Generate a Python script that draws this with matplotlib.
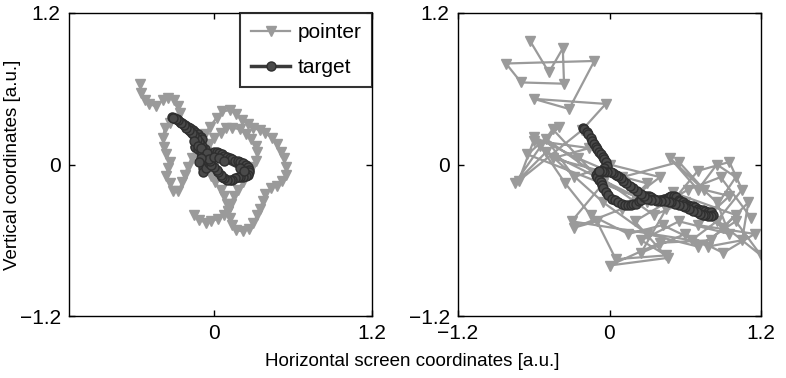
import matplotlib
matplotlib.use('Agg')
import matplotlib.pyplot as plt

plt.rcParams['font.family'] = ['Liberation Sans', 'DejaVu Sans']

# left panel: pointer trajectory
ptr_l_x = [-0.56, -0.55, -0.52, -0.49, -0.44, -0.39, -0.35, -0.30, -0.27, -0.26,
           -0.29, -0.33, -0.37, -0.39, -0.38, -0.36, -0.33, -0.35, -0.36, -0.33,
           -0.31, -0.27, -0.24, -0.22, -0.20, -0.17, -0.14, -0.11, -0.07, -0.03,
           0.02, 0.06, 0.12, 0.17, 0.21, 0.26, 0.30, 0.35, 0.39, 0.44,
           0.48, 0.51, 0.53, 0.55, 0.55, 0.52, 0.48, 0.43, 0.39, 0.37,
           0.35, 0.33, 0.30, 0.27, 0.22, 0.17, 0.14, 0.12, 0.11, 0.13,
           0.15, 0.18, 0.22, 0.26, 0.29, 0.32, 0.33, 0.32, 0.28, 0.24,
           0.20, 0.14, 0.09, 0.05, 0.00, -0.04, -0.06, -0.07, -0.05, -0.02,
           0.01, 0.05, 0.08, 0.10, 0.11, 0.08, 0.03, -0.02, -0.06, -0.11, -0.15]
ptr_l_y = [0.64, 0.57, 0.51, 0.48, 0.46, 0.51, 0.53, 0.51, 0.46, 0.41,
           0.37, 0.33, 0.29, 0.21, 0.14, 0.08, 0.02, -0.03, -0.09, -0.15,
           -0.21, -0.21, -0.14, -0.08, -0.02, 0.05, 0.11, 0.17, 0.24, 0.30,
           0.37, 0.42, 0.43, 0.40, 0.35, 0.32, 0.29, 0.27, 0.25, 0.21,
           0.16, 0.10, 0.05, -0.02, -0.08, -0.13, -0.17, -0.19, -0.23, -0.29,
           -0.35, -0.40, -0.46, -0.51, -0.53, -0.52, -0.48, -0.42, -0.37, -0.31,
           -0.25, -0.20, -0.14, -0.08, -0.02, 0.03, 0.10, 0.15, 0.20, 0.24,
           0.28, 0.29, 0.29, 0.25, 0.21, 0.16, 0.10, 0.03, -0.03, -0.09,
           -0.14, -0.20, -0.25, -0.31, -0.37, -0.40, -0.43, -0.45, -0.46, -0.44, -0.40]

# left panel: target trajectory
tgt_l_x = [-0.32, -0.30, -0.28, -0.26, -0.24, -0.22, -0.20, -0.18, -0.16, -0.14,
           -0.12, -0.10, -0.09, -0.11, -0.13, -0.14, -0.12, -0.10, -0.09, -0.07,
           -0.06, -0.07, -0.08, -0.08, -0.06, -0.04, -0.03, -0.02, 0.00, 0.02,
           0.04, 0.06, 0.08, 0.10, 0.12, 0.14, 0.16, 0.18, 0.20, 0.22,
           0.24, 0.26, 0.27, 0.27, 0.26, 0.24, 0.22, 0.20, 0.18, 0.16,
           0.14, 0.12, 0.10, 0.08, 0.06, 0.05, 0.03, 0.02, 0.00, -0.02,
           -0.03, -0.05, -0.06, -0.07, -0.09, -0.11, -0.13, -0.15, -0.17, -0.19,
           -0.21, -0.23, -0.25, -0.27, -0.29, -0.31, -0.15, -0.12, -0.10, -0.05,
           -0.04, -0.10, -0.11, 0.00, 0.04, 0.08, 0.20, 0.23]
tgt_l_y = [0.38, 0.37, 0.36, 0.34, 0.33, 0.31, 0.30, 0.29, 0.27, 0.26,
           0.24, 0.22, 0.20, 0.18, 0.16, 0.14, 0.12, 0.10, 0.08, 0.06,
           0.03, 0.00, -0.03, -0.06, -0.03, 0.01, 0.05, 0.08, 0.10, 0.10,
           0.09, 0.08, 0.07, 0.06, 0.05, 0.04, 0.03, 0.03, 0.02, 0.01,
           0.00, -0.02, -0.04, -0.06, -0.08, -0.09, -0.10, -0.10, -0.10, -0.11,
           -0.12, -0.12, -0.12, -0.11, -0.10, -0.08, -0.06, -0.04, -0.02, 0.00,
           0.03, 0.06, 0.09, 0.12, 0.15, 0.18, 0.20, 0.23, 0.25, 0.27,
           0.29, 0.31, 0.33, 0.35, 0.36, 0.37, 0.19, 0.15, 0.13, 0.09,
           0.04, 0.05, 0.02, 0.06, 0.05, 0.03, -0.03, -0.05]

# right panel: pointer trajectory
ptr_r_x = [-0.63, -0.48, -0.37, -0.36, -0.70, -0.82, -0.12, -0.32, -0.60, -0.03,
           -0.22, -0.72, -0.60, -0.16, -0.45, 0.30, 0.10, -0.28, -0.10, 0.05,
           0.45, 0.25, 0.55, 0.95, 0.85, 0.48, 0.70, 0.85, 1.00, 0.80,
           1.20, 1.00, 0.70, 0.30, -0.05, -0.55, -0.40, -0.65, 0.20, 0.40,
           0.00, -0.28, -0.50, 0.35, 0.60, 0.90, 1.10, 1.05, 0.78, 0.42,
           0.15, -0.15, -0.35, -0.60, -0.25, 0.10, 0.55, 0.75, 0.95, 0.70,
           1.15, 0.90, 0.60, 0.25, 0.45, 0.70, 0.95, 1.05, 0.85, 0.65,
           -0.30, -0.05, -0.45, -0.75, -0.50, 0.30, 0.50, 1.00, 0.80, 0.40,
           0.00, 0.46, 0.20, 0.62, 0.88, 1.12]
ptr_r_y = [0.98, 0.73, 0.92, 0.64, 0.65, 0.80, 0.82, 0.44, 0.52, 0.48,
           0.27, -0.13, 0.19, 0.13, 0.05, -0.15, -0.35, -0.50, -0.45, -0.75,
           -0.72, -0.60, -0.45, -0.55, -0.30, 0.05, -0.20, 0.00, -0.10, -0.40,
           -0.72, -0.45, -0.65, -0.55, -0.30, 0.15, 0.30, 0.08, -0.25, -0.10,
           0.00, -0.10, 0.20, -0.40, -0.30, -0.50, -0.30, -0.60, -0.65, -0.48,
           -0.55, -0.40, -0.15, 0.22, 0.05, -0.10, 0.02, -0.20, -0.25, -0.48,
           -0.55, -0.70, -0.55, -0.70, -0.35, -0.05, 0.02, -0.20, -0.45, -0.60,
           -0.45, -0.15, 0.28, -0.15, 0.10, -0.30, -0.22, -0.40, -0.60, -0.62,
           -0.80, -0.74, -0.45, -0.20, -0.10, -0.42]

# right panel: target trajectory
tgt_r_x = [-0.21, -0.20, -0.18, -0.17, -0.15, -0.14, -0.12, -0.11, -0.10, -0.08,
           -0.07, -0.05, -0.04, -0.03, -0.02, -0.04, -0.06, -0.09, -0.11, -0.10,
           -0.08, -0.07, -0.06, -0.05, -0.03, -0.01, 0.02, 0.04, 0.07, 0.10,
           0.12, 0.15, 0.17, 0.19, 0.21, 0.23, 0.25, 0.27, 0.29, 0.31,
           0.33, 0.35, 0.37, 0.39, 0.41, 0.43, 0.45, 0.47, 0.49, 0.51,
           0.53, 0.55, 0.56, 0.58, 0.60, 0.62, 0.64, 0.66, 0.68, 0.70,
           0.72, 0.74, 0.76, 0.78, 0.80, 0.82,
           0.80, 0.78, 0.76, 0.74, 0.72, 0.69, 0.66, 0.63, 0.60, 0.58,
           0.55, 0.52, 0.49, 0.47, 0.44, 0.41, 0.38, 0.36, 0.33, 0.30,
           0.27, 0.25, 0.22, 0.19, 0.16, 0.13, 0.11, 0.09, 0.07, 0.05,
           0.03, 0.01, -0.02, -0.04, -0.06, -0.08]
tgt_r_y = [0.29, 0.28, 0.26, 0.24, 0.21, 0.19, 0.16, 0.14, 0.12, 0.10,
           0.08, 0.06, 0.04, 0.02, -0.01, -0.03, -0.05, -0.06, -0.08, -0.10,
           -0.12, -0.14, -0.16, -0.19, -0.22, -0.24, -0.27, -0.28, -0.30, -0.31,
           -0.32, -0.32, -0.32, -0.31, -0.31, -0.29, -0.28, -0.26, -0.25, -0.25,
           -0.26, -0.27, -0.28, -0.28, -0.28, -0.27, -0.27, -0.26, -0.25, -0.25,
           -0.26, -0.28, -0.29, -0.30, -0.31, -0.32, -0.33, -0.33, -0.34, -0.35,
           -0.36, -0.36, -0.37, -0.38, -0.38, -0.40,
           -0.41, -0.41, -0.40, -0.40, -0.39, -0.38, -0.37, -0.35, -0.34, -0.33,
           -0.32, -0.31, -0.30, -0.30, -0.29, -0.29, -0.29, -0.28, -0.28, -0.27,
           -0.25, -0.23, -0.21, -0.19, -0.17, -0.15, -0.13, -0.11, -0.09, -0.08,
           -0.07, -0.06, -0.06, -0.06, -0.05, -0.05]

ptr_color = '#9a9a9a'
tgt_color = '#3a3a3a'

fig = plt.figure(figsize=(7.86, 3.78), dpi=100)
ax1 = fig.add_axes([69/786, 62/378, 303/786, 303/378])
ax2 = fig.add_axes([458/786, 62/378, 303/786, 303/378])

for ax, px, py, tx, ty in [(ax1, ptr_l_x, ptr_l_y, tgt_l_x, tgt_l_y),
                           (ax2, ptr_r_x, ptr_r_y, tgt_r_x, tgt_r_y)]:
    ax.plot(px, py, color=ptr_color, lw=1.6, marker='v', ms=7.5,
            mfc=ptr_color, mec=ptr_color, label='pointer')
    ax.plot(tx, ty, color=tgt_color, lw=2.5, marker='o', ms=6.5,
            mfc='#4a4a4a', mec='#2e2e2e', mew=1.0, label='target')
    ax.set_ylim(-1.2, 1.2)
    ax.set_yticks([-1.2, 0, 1.2])
    ax.set_yticklabels(['\u22121.2', '0', '1.2'])
    ax.tick_params(direction='in', length=4, width=1, top=True, right=True,
                   labelsize=15, pad=6)
    for s in ax.spines.values():
        s.set_linewidth(1.0)

ax1.set_xlim(-1.1, 1.2)
ax1.set_xticks([0, 1.2])
ax1.set_xticklabels(['0', '1.2'])
ax2.set_xlim(-1.2, 1.2)
ax2.set_xticks([-1.2, 0, 1.2])
ax2.set_xticklabels(['\u22121.2', '0', '1.2'])

leg = ax1.legend(loc='upper right', borderaxespad=0, fancybox=False,
                 fontsize=15, handlelength=1.9, handletextpad=0.35,
                 labelspacing=0.75, borderpad=0.5)
leg.get_frame().set_edgecolor('black')
leg.get_frame().set_linewidth(1.5)

fig.text(412/786, 1 - 362/378, 'Horizontal screen coordinates [a.u.]',
         ha='center', va='center', fontsize=13.5)
fig.text(13/786, 1 - 165/378, 'Vertical coordinates [a.u.]',
         ha='center', va='center', rotation=90, fontsize=13.5)

fig.savefig('out.png', dpi=100)
